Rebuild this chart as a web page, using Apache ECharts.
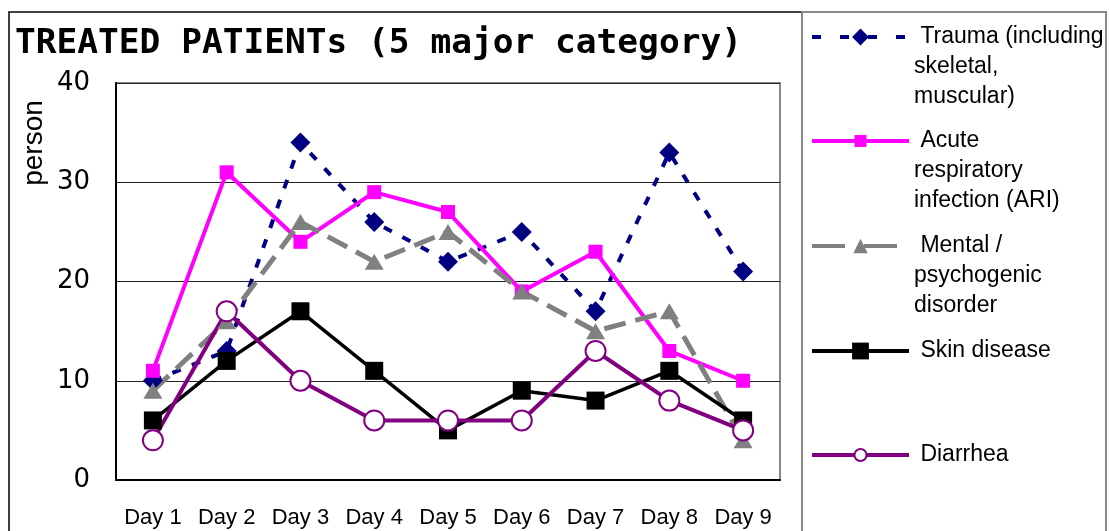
<!DOCTYPE html>
<html>
<head>
<meta charset="utf-8">
<script src="https://cdn.jsdelivr.net/npm/echarts@6/dist/echarts.min.js"></script>
<style>
  html, body { margin: 0; padding: 0; background: #fff; }
  #chart { width: 1109px; height: 531px; }
</style>
</head>
<body>
<div id="chart"></div>
<script>
var days = ['Day 1', 'Day 2', 'Day 3', 'Day 4', 'Day 5', 'Day 6', 'Day 7', 'Day 8', 'Day 9'];
var trauma = [10, 13, 34, 26, 22, 25, 17, 33, 21];
var ari = [11, 31, 24, 29, 27, 19, 23, 13, 10];
var mental = [9, 16, 26, 22, 25, 19, 15, 17, 4];
var skin = [6, 12, 17, 11, 5, 9, 8, 11, 6];
var diarrhea = [4, 17, 10, 6, 6, 6, 13, 8, 5];

var names = [
    ' Trauma (including\nskeletal,\nmuscular)',
    ' Acute\nrespiratory\ninfection (ARI)',
    ' Mental /\npsychogenic\ndisorder',
    ' Skin disease',
    ' Diarrhea'
];

var labelFont = 'Liberation Sans';

// one legend per item; two blank lines on top of the 3-line names
// keep the icon level with their first line
function legendItem(name, top, itemHeight, lineType, multi) {
    return {
        data: [name],
        left: 810,
        top: top,
        orient: 'vertical',
        padding: 0,
        itemWidth: 97,
        itemHeight: itemHeight,
        selectedMode: false,
        lineStyle: { width: 4, type: lineType },
        formatter: function (n) { return multi ? '\n\n' + n : n; },
        textStyle: {
            fontFamily: labelFont,
            fontSize: 23,
            lineHeight: 30,
            color: '#000'
        }
    };
}

var option = {
    animation: false,
    backgroundColor: '#fff',
    title: {
        text: 'TREATED PATIENTs (5 major category)',
        left: 15,
        top: 27,
        padding: 0,
        textStyle: {
            fontFamily: 'DejaVu Sans Mono',
            fontSize: 34.5,
            fontWeight: 'bold',
            color: '#000'
        }
    },
    legend: [
        legendItem(names[0], -38, 21, [9, 19], true),
        legendItem(names[1], 66, 15, 'solid', true),
        legendItem(names[2], 171, 18, [33, 19], true),
        legendItem(names[3], 336, 21, 'solid', false),
        legendItem(names[4], 440, 15, 'solid', false)
    ],
    grid: {
        left: 116,
        top: 83,
        right: 329,
        bottom: 51,
        show: true,
        borderColor: '#888',
        borderWidth: 2
    },
    xAxis: {
        type: 'category',
        data: days,
        boundaryGap: true,
        axisLine: { lineStyle: { color: '#000', width: 2 } },
        axisTick: { inside: true, length: 6, lineStyle: { color: '#000', width: 1 } },
        axisLabel: { fontFamily: labelFont, fontSize: 22, color: '#000', margin: 27, interval: 0 }
    },
    yAxis: {
        type: 'value',
        min: 0,
        max: 40,
        interval: 10,
        axisLine: { show: true, lineStyle: { color: '#000', width: 2 } },
        axisTick: { show: false },
        splitLine: { lineStyle: { color: '#222', width: 1 } },
        axisLabel: { fontFamily: 'DejaVu Sans', fontSize: 26, color: '#000', margin: 26 }
    },
    graphic: [
        {
            type: 'rect',
            shape: { x: 9, y: 12, width: 793, height: 540 },
            style: { fill: 'none', stroke: '#000', lineWidth: 1.5 },
            silent: true
        },
        {
            type: 'rect',
            shape: { x: 802, y: 12, width: 304, height: 540 },
            style: { fill: 'none', stroke: '#888', lineWidth: 2 },
            silent: true
        },
        {
            type: 'text',
            x: 34,
            y: 143,
            rotation: Math.PI / 2,
            style: {
                text: 'person',
                fontFamily: labelFont,
                fontSize: 28,
                fill: '#000',
                align: 'center',
                verticalAlign: 'middle'
            }
        }
    ],
    series: [
        {
            name: names[0],
            type: 'line',
            data: trauma,
            symbol: 'diamond',
            symbolSize: 20,
            itemStyle: { color: '#000080' },
            lineStyle: { color: '#000080', width: 4, type: [9, 12] }
        },
        {
            name: names[1],
            type: 'line',
            data: ari,
            symbol: 'rect',
            symbolSize: 14,
            itemStyle: { color: '#ff00ff' },
            lineStyle: { color: '#ff00ff', width: 4 }
        },
        {
            name: names[2],
            type: 'line',
            data: mental,
            symbol: 'triangle',
            symbolSize: [19, 16],
            itemStyle: { color: '#808080' },
            lineStyle: { color: '#808080', width: 5, type: [22, 10] }
        },
        {
            name: names[3],
            type: 'line',
            data: skin,
            symbol: 'rect',
            symbolSize: 18,
            itemStyle: { color: '#000' },
            lineStyle: { color: '#000', width: 3.5 }
        },
        {
            name: names[4],
            type: 'line',
            data: diarrhea,
            symbol: 'emptyCircle',
            symbolSize: 20,
            itemStyle: { color: '#800080', borderWidth: 2.5 },
            lineStyle: { color: '#800080', width: 4 }
        }
    ]
};

var myChart = echarts.init(document.getElementById('chart'));
myChart.setOption(option);
</script>
</body>
</html>
